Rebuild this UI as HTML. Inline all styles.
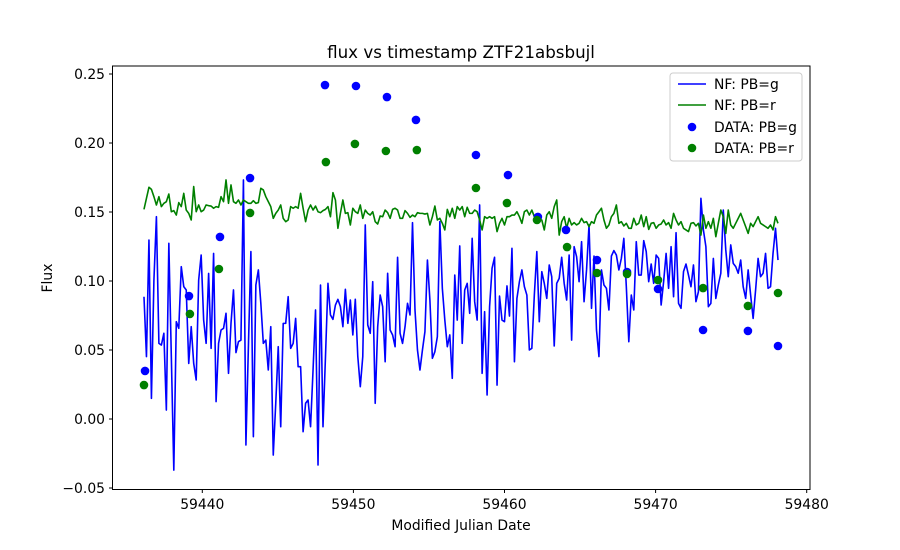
<!DOCTYPE html>
<html><head><meta charset="utf-8"><style>
body{margin:0;background:#fff;}
svg{display:block;font-family:"DejaVu Sans","Liberation Sans",sans-serif;}
</style></head><body>
<svg id="chart" width="900" height="550" viewBox="0 0 900 550" xmlns="http://www.w3.org/2000/svg">
<rect width="900" height="550" fill="#fff"/>
<defs><clipPath id="clip"><rect x="112.5" y="66" width="697.5" height="423.5"/></clipPath></defs>
<text x="461" y="58" text-anchor="middle" font-size="16.7">flux vs timestamp ZTF21absbujl</text>
<g id="xticks"></g><g id="yticks"></g>
<g id="plot" clip-path="url(#clip)"></g>
<rect x="112.5" y="66" width="697.5" height="423.5" fill="none" stroke="#000" stroke-width="1"/>
<text x="461" y="530" text-anchor="middle" font-size="13.9">Modified Julian Date</text>
<text transform="translate(52,278) rotate(-90)" text-anchor="middle" font-size="13.9">Flux</text>
<g>
<rect x="670" y="73" width="132" height="88" rx="3" fill="#fff" fill-opacity="0.8" stroke="#ccc"/>
<line x1="678" y1="84" x2="706" y2="84" stroke="#0000ff" stroke-width="1.6"/>
<text x="714" y="89" font-size="13.9">NF: PB=g</text>
<line x1="678" y1="105" x2="706" y2="105" stroke="#008000" stroke-width="1.6"/>
<text x="714" y="110" font-size="13.9">NF: PB=r</text>
<circle cx="692" cy="127" r="4.3" fill="#0000ff"/>
<text x="714" y="132" font-size="13.9">DATA: PB=g</text>
<circle cx="692" cy="148" r="4.3" fill="#008000"/>
<text x="714" y="153" font-size="13.9">DATA: PB=r</text>
</g>
</svg>
<script>
const nfStart = 59436.14, nfEnd = 59478.1;
const nfG = [0.0886,0.0452,0.1297,0.0150,0.1007,0.1466,0.0548,0.0536,0.0621,0.0065,0.1273,0.0452,-0.0370,0.0705,0.0657,0.1104,0.0959,0.0935,0.0403,0.0669,0.0403,0.0283,0.1007,0.1188,0.0717,0.0548,0.1055,0.0512,0.1200,0.0126,0.0548,0.0645,0.0657,0.0766,0.0331,0.0693,0.0935,0.0481,0.0560,0.0572,0.1732,-0.0188,0.0524,0.1213,-0.0128,0.0971,0.1080,0.0838,0.0548,0.0572,0.0355,0.0669,-0.0261,0.0114,0.0524,-0.0056,0.0693,0.0693,0.0886,0.0512,0.0548,0.0729,0.0379,0.0379,-0.0092,0.0114,0.0138,
-0.0056,0.0355,0.0790,-0.0333,0.0971,-0.0056,0.0452,0.0983,0.0754,0.0722,0.0826,0.0867,0.0814,0.0669,0.0940,0.0693,0.0862,0.0609,0.0867,0.0452,0.0234,0.0452,0.1406,0.0681,0.0621,0.0995,0.0114,0.0669,0.0898,0.0814,0.0415,0.1056,0.0645,0.0609,0.0524,0.1172,0.0621,0.0548,0.0669,0.0838,0.0754,0.1423,0.0790,0.0500,0.0355,0.0500,0.0633,0.1152,0.0862,0.0440,0.0488,0.0597,0.1430,0.0947,0.0717,0.0524,0.0609,0.0295,0.1043,0.0717,0.1254,0.0548,0.0935,0.0983,0.0766,
0.1309,0.0850,0.0717,0.1551,0.0331,0.0778,0.0174,0.0814,0.1092,0.1172,0.0246,0.0891,0.0717,0.0705,0.0964,0.0746,0.1237,0.0415,0.0874,0.0995,0.1080,0.0959,0.0898,0.0500,0.0512,0.0898,0.1213,0.0705,0.1068,0.0983,0.0874,0.1116,0.1031,0.0529,0.0983,0.1019,0.1172,0.0983,0.0862,0.1188,0.0572,0.1249,0.1176,0.0995,0.1285,0.0850,0.1080,0.1406,0.0802,0.1181,0.0645,0.0452,0.1080,0.0971,0.0947,0.0790,0.1181,0.1220,0.1188,0.1080,0.1164,0.1309,0.0959,0.0560,
0.0898,0.0790,0.1285,0.1043,0.1043,0.1292,0.1213,0.0995,0.1123,0.0983,0.1188,0.1164,0.0826,0.0995,0.1200,0.0947,0.1249,0.0886,0.1350,0.0838,0.0802,0.1068,0.1123,0.1043,0.0959,0.1116,0.0850,0.0923,0.1599,0.1370,0.1249,0.0814,0.0838,0.1164,0.0874,0.0971,0.1056,0.1514,0.1225,0.1031,0.1261,0.1128,0.1104,0.1056,0.1152,0.0959,0.0874,0.1080,0.0898,0.0729,0.0935,0.1164,0.1031,0.1056,0.1200,0.0947,0.0959,0.1200,0.1382,0.1152];
const nfR = [0.1519,0.1599,0.1679,0.1664,0.1611,0.1551,0.1611,0.1539,0.1563,0.1575,0.1630,0.1502,0.1510,0.1478,0.1568,0.1539,0.1635,0.1514,0.1490,0.1442,0.1684,0.1502,0.1551,0.1502,0.1514,0.1551,0.1546,0.1543,0.1527,0.1539,0.1534,0.1611,0.1575,0.1732,0.1563,0.1696,0.1575,0.1563,0.1587,0.1551,0.1587,0.1575,0.1563,0.1563,0.1582,0.1563,0.1568,0.1672,0.1660,0.1611,0.1575,0.1539,0.1454,0.1490,0.1514,0.1551,0.1454,0.1430,0.1442,0.1539,0.1527,0.1539,0.1527,0.1635,0.1527,0.1430,0.1514,
0.1551,0.1514,0.1543,0.1502,0.1495,0.1510,0.1519,0.1539,0.1466,0.1640,0.1587,0.1382,0.1490,0.1587,0.1490,0.1495,0.1406,0.1527,0.1502,0.1490,0.1551,0.1454,0.1514,0.1490,0.1478,0.1502,0.1430,0.1413,0.1471,0.1466,0.1514,0.1495,0.1454,0.1519,0.1527,0.1514,0.1454,0.1454,0.1510,0.1490,0.1461,0.1478,0.1466,0.1495,0.1490,0.1490,0.1485,0.1490,0.1406,0.1466,0.1543,0.1442,0.1454,0.1418,0.1370,0.1519,0.1466,0.1527,0.1454,0.1539,0.1514,0.1539,0.1466,0.1534,0.1490,
0.1490,0.1514,0.1502,0.1442,0.1370,0.1466,0.1454,0.1466,0.1454,0.1466,0.1358,0.1418,0.1454,0.1406,0.1466,0.1466,0.1478,0.1478,0.1502,0.1466,0.1418,0.1502,0.1514,0.1478,0.1514,0.1466,0.1478,0.1447,0.1442,0.1370,0.1478,0.1502,0.1454,0.1539,0.1587,0.1333,0.1430,0.1466,0.1382,0.1454,0.1406,0.1423,0.1406,0.1418,0.1454,0.1423,0.1430,0.1394,0.1430,0.1418,0.1478,0.1502,0.1527,0.1442,0.1382,0.1406,0.1466,0.1490,0.1551,0.1418,0.1430,0.1399,0.1418,0.1382,
0.1382,0.1454,0.1406,0.1418,0.1478,0.1394,0.1466,0.1374,0.1418,0.1423,0.1382,0.1406,0.1413,0.1442,0.1406,0.1423,0.1382,0.1490,0.1442,0.1406,0.1430,0.1382,0.1370,0.1358,0.1418,0.1423,0.1399,0.1418,0.1333,0.1478,0.1382,0.1430,0.1382,0.1454,0.1321,0.1418,0.1514,0.1466,0.1345,0.1514,0.1406,0.1382,0.1418,0.1454,0.1490,0.1442,0.1394,0.1345,0.1418,0.1394,0.1430,0.1466,0.1418,0.1406,0.1394,0.1382,0.1406,0.1370,0.1466,0.1418];
const dataGDates = [59436.21,59439.12,59441.17,59443.16,59448.12,59450.17,59452.22,59454.14,59458.11,59460.23,59462.21,59464.07,59466.12,59468.11,59470.16,59473.14,59476.11,59478.1];
const dataGFlux = [0.0348,0.0891,0.1319,0.1746,0.2420,0.2413,0.2333,0.2167,0.1913,0.1768,0.1464,0.1370,0.1152,0.1065,0.0942,0.0645,0.0638,0.0529];
const dataRDates = [59436.14,59439.18,59441.1,59443.16,59448.18,59450.1,59452.15,59454.2,59458.11,59460.16,59462.15,59464.14,59466.12,59468.11,59470.16,59473.14,59476.11,59478.1];
const dataRFlux = [0.0246,0.0761,0.1087,0.1493,0.1862,0.1993,0.1942,0.1949,0.1674,0.1565,0.1442,0.1246,0.1058,0.1051,0.1007,0.0949,0.0819,0.0913];
const xTicks = [59440,59450,59460,59470,59480];
const yTicks = [-0.05,0.00,0.05,0.10,0.15,0.20,0.25];

const NS = "http://www.w3.org/2000/svg";
function xs(d){ return 202.3 + (d - 59440) * 15.11; }
function ys(v){ return 419 - v * 1380; }
function mk(tag, attrs, parent){ const e = document.createElementNS(NS, tag); for (const k in attrs) e.setAttribute(k, attrs[k]); parent.appendChild(e); return e; }

const xg = document.getElementById('xticks');
xTicks.forEach(t => {
  const x = xs(t);
  const tk = mk('line', {x1:x, y1:489.5, x2:x, y2:493, stroke:'#000'}, xg);
  
  
  const lb = mk('text', {x:x, y:509, 'text-anchor':'middle', 'font-size':'13.9'}, xg);
  lb.textContent = String(t);
  
  
});
const yg = document.getElementById('yticks');
yTicks.forEach(t => {
  const y = ys(t);
  const tk = mk('line', {x1:109, y1:y, x2:112.5, y2:y, stroke:'#000'}, yg);
  
  
  const lb = mk('text', {x:105, y:y + 5, 'text-anchor':'end', 'font-size':'13.9'}, yg);
  lb.textContent = (t < 0 ? '\u2212' : '') + Math.abs(t).toFixed(2);
  
  
});

const plot = document.getElementById('plot');
function linePath(vals){
  const n = vals.length;
  return vals.map((v, i) => (i ? 'L' : 'M') + xs(nfStart + (nfEnd - nfStart) * i / (n - 1)).toFixed(2) + ',' + ys(v).toFixed(2)).join('');
}
const lg = mk('path', {d:linePath(nfG), fill:'none', stroke:'#0000ff', 'stroke-width':'1.6', 'stroke-linejoin':'round'}, plot);


const lr = mk('path', {d:linePath(nfR), fill:'none', stroke:'#008000', 'stroke-width':'1.6', 'stroke-linejoin':'round'}, plot);



dataGDates.forEach((d, i) => {
  const c = mk('circle', {cx:xs(d), cy:ys(dataGFlux[i]), r:4.3, fill:'#0000ff'}, plot);
  
  
});
dataRDates.forEach((d, i) => {
  const c = mk('circle', {cx:xs(d), cy:ys(dataRFlux[i]), r:4.3, fill:'#008000'}, plot);
  
  
});
</script>
</body></html>
